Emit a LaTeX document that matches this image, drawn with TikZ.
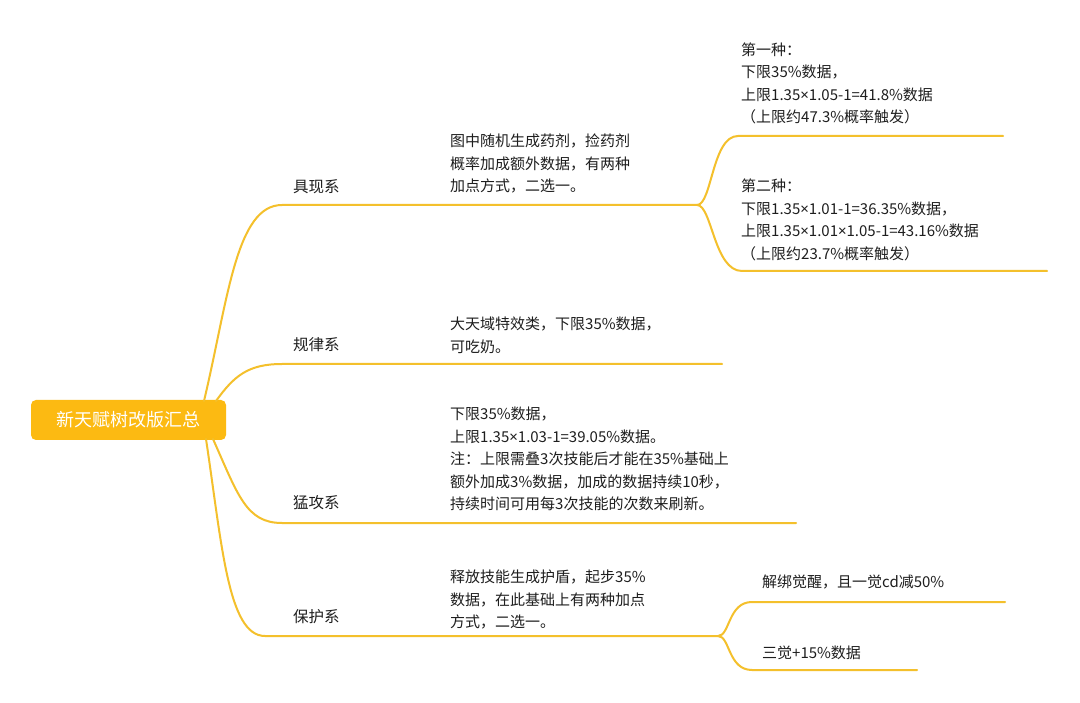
\documentclass[tikz,border=0pt]{standalone}
\usepackage{fontspec}
\setmainfont{Noto Sans CJK SC}
\newfontfamily\latf{Noto Sans}
\newcommand{\tms}{{\latf ×}}
\definecolor{rootc}{RGB}{252,186,18}
\definecolor{linec}{RGB}{244,192,44}
\definecolor{txtc}{RGB}{30,30,30}
\begin{document}
\begin{tikzpicture}[x=1pt,y=-1pt,
  branch/.style={draw=linec, line width=2pt, line cap=round},
  txt/.style={anchor=west, inner sep=0pt, align=left, text=txtc, font=\fontsize{15}{22.5}\selectfont},
  lbl/.style={anchor=west, inner sep=0pt, text=txtc, font=\fontsize{15.5}{18}\selectfont}]
\useasboundingbox[fill=white] (0,0) rectangle (1080,703);
% root
\node[fill=rootc, rounded corners=5pt, minimum width=195pt, minimum height=40pt, inner sep=0pt,
      text=white, font=\fontsize{18}{20}\selectfont] (root) at (128.5,420) {新天赋树改版汇总};
\coordinate (r1) at (204,401);
\coordinate (r2) at (216,401);
\coordinate (r3) at (213,439);
\coordinate (r4) at (206,439);
% branch end points
\coordinate (h1s) at (282,205); \coordinate (h1e) at (697,205);
\coordinate (h2s) at (282,364); \coordinate (h2e) at (722,364);
\coordinate (h3s) at (282,523); \coordinate (h3e) at (796,523);
\coordinate (h4s) at (265,636); \coordinate (h4e) at (718,636);
% sub end points
\coordinate (s1s) at (738,136); \coordinate (s1e) at (1003,136);
\coordinate (s2s) at (742,271); \coordinate (s2e) at (1047,271);
\coordinate (s3s) at (752,602); \coordinate (s3e) at (1005,602);
\coordinate (s4s) at (752,670); \coordinate (s4e) at (917,670);
% main branches
\draw[branch] (r1) .. controls (228,300) and (236,205) .. (h1s) -- (h1e);
\draw[branch] (r2) .. controls (234,376) and (248,364) .. (h2s) -- (h2e);
\draw[branch] (r3) .. controls (238,495) and (246,523) .. (h3s) -- (h3e);
\draw[branch] (r4) .. controls (222,545) and (228,636) .. (h4s) -- (h4e);
% sub branches
\draw[branch] (h1e) .. controls (712,205) and (712,136) .. (s1s) -- (s1e);
\draw[branch] (h1e) .. controls (712,205) and (714,271) .. (s2s) -- (s2e);
\draw[branch] (h4e) .. controls (730,636) and (728,602) .. (s3s) -- (s3e);
\draw[branch] (h4e) .. controls (730,636) and (728,670) .. (s4s) -- (s4e);
% labels
\node[lbl] (l1) at (293,187) {具现系};
\node[lbl] (l2) at (293,345) {规律系};
\node[lbl] (l3) at (293,503) {猛攻系};
\node[lbl] (l4) at (293,617) {保护系};
% texts
\node[txt] (t1) at (450,163.5) {图中随机生成药剂，捡药剂\\概率加成额外数据，有两种\\加点方式，二选一。};
\node[txt] (t2) at (450,335.5) {大天域特效类，下限35\%数据，\\可吃奶。};
\node[txt] (t3) at (450,459) {下限35\%数据，\\上限1.35\tms 1.03-1=39.05\%数据。\\注：上限需叠3次技能后才能在35\%基础上\\额外加成3\%数据，加成的数据持续10秒，\\持续时间可用每3次技能的次数来刷新。};
\node[txt] (t4) at (450,599.5) {释放技能生成护盾，起步35\%\\数据，在此基础上有两种加点\\方式，二选一。};
\node[txt] (t5) at (741,83.5) {第一种：\\下限35\%数据，\\上限1.35\tms 1.05-1=41.8\%数据\\（上限约47.3\%概率触发）};
\node[txt] (t6) at (741,220) {第二种：\\下限1.35\tms 1.01-1=36.35\%数据，\\上限1.35\tms 1.01\tms 1.05-1=43.16\%数据\\（上限约23.7\%概率触发）};
\node[txt] (t7) at (762,582) {解绑觉醒，且一觉cd减50\%};
\node[txt] (t8) at (762,653) {三觉+15\%数据};
\end{tikzpicture}
\end{document}
